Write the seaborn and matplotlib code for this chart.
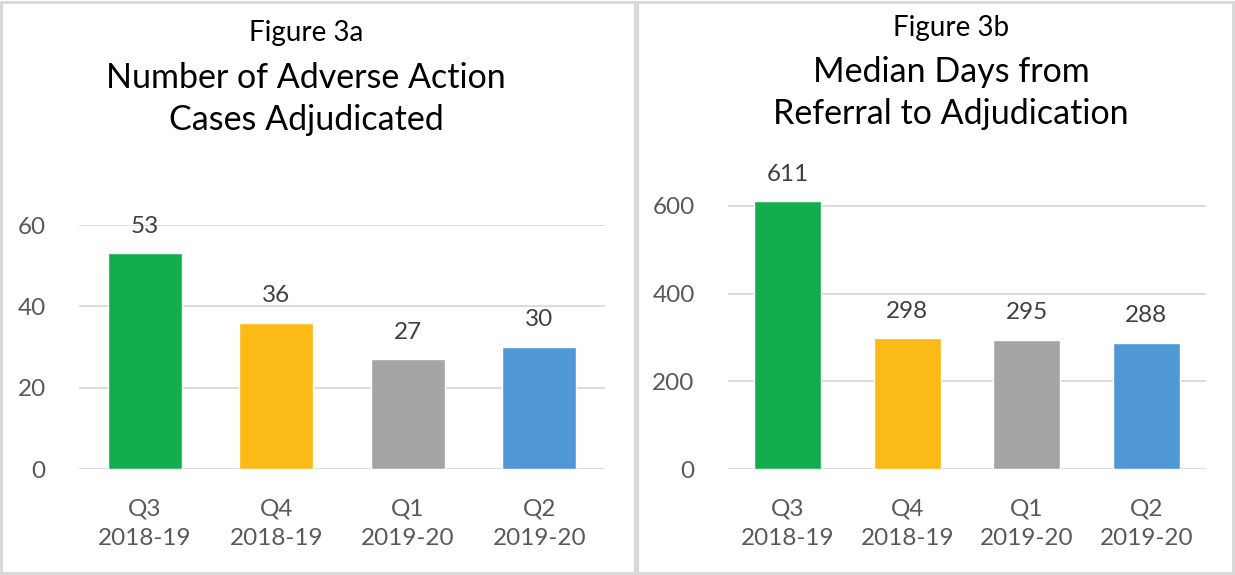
import matplotlib
matplotlib.use("Agg")
import matplotlib.pyplot as plt
from matplotlib.patches import Rectangle
import pandas as pd
import seaborn as sns

# -------------------------------------------------------
# Data
# -------------------------------------------------------
quarters = ["Q3\n2018-19", "Q4\n2018-19", "Q1\n2019-20", "Q2\n2019-20"]
cases_adjudicated = [53, 36, 27, 30]
median_days = [611, 298, 295, 288]
bar_colours = ["#14AD4E", "#FBBA16", "#A5A5A5", "#5097D5"]

sns.set_theme(style="white")
plt.rcParams["font.family"] = ["Lato", "DejaVu Sans"]

W, H = 1235, 575
fig = plt.figure(figsize=(W / 100, H / 100), dpi=100)


def px_axes(left, top_px, right, bottom_px):
    return fig.add_axes([left / W, (H - bottom_px) / H, (right - left) / W, (bottom_px - top_px) / H])


# panel borders
for x0, x1 in [(1, 635), (637, 1233)]:
    fig.patches.append(Rectangle((x0 / W, 2 / H), (x1 - x0) / W, (H - 4) / H,
                                 transform=fig.transFigure, fill=False,
                                 edgecolor="#D9D9D9", linewidth=2.2))


def draw_panel(ax, values, ymax, ticks):
    df = pd.DataFrame({"quarter": quarters, "value": values})
    sns.barplot(data=df, x="quarter", y="value", hue="quarter", palette=bar_colours,
                width=0.56, legend=False, saturation=1, ax=ax, zorder=3)
    ax.set_ylim(0, ymax)
    ax.set_yticks(ticks)
    ax.yaxis.grid(True, color="#D9D9D9", linewidth=1.3, zorder=0)
    ax.set_axisbelow(True)
    for s in ax.spines.values():
        s.set_visible(False)
    ax.set_xlabel("")
    ax.set_ylabel("")
    ax.set_xticks(range(len(quarters)))
    ax.set_xticklabels(quarters, linespacing=1.5)
    ax.tick_params(axis="y", length=0, pad=24, labelsize=17.5, labelcolor="#595959")
    ax.tick_params(axis="x", length=0, pad=21, labelsize=17.5, labelcolor="#595959")
    for i, v in enumerate(values):
        ax.annotate(f"{v}", (i, v), xytext=(0, 12), textcoords="offset points",
                    ha="center", va="bottom", fontsize=17.5, color="#404040")


ax1 = px_axes(79, 225, 605, 469)
draw_panel(ax1, cases_adjudicated, 60, [0, 20, 40, 60])

ax2 = px_axes(728, 469 - 620 * (263 / 600), 1206, 469)
draw_panel(ax2, median_days, 620, [0, 200, 400, 600])

# titles
fig.text(306 / W, 1 - 33 / H, "Figure 3a", ha="center", va="center", fontsize=20, color="black")
fig.text(306 / W, 1 - 99 / H, "Number of Adverse Action\nCases Adjudicated", ha="center",
         va="center", fontsize=24.5, color="black", linespacing=1.35)
fig.text(951 / W, 1 - 28 / H, "Figure 3b", ha="center", va="center", fontsize=20, color="black")
fig.text(951 / W, 1 - 93 / H, "Median Days from\nReferral to Adjudication", ha="center",
         va="center", fontsize=24.5, color="black", linespacing=1.35)

fig.savefig("out.png", dpi=100, facecolor="white")
